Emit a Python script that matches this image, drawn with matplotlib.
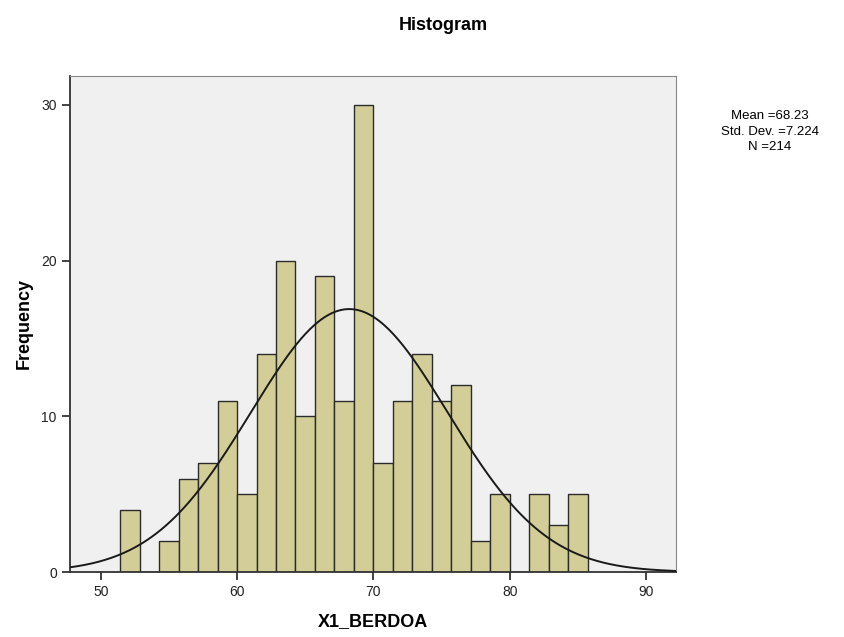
import numpy as np
import matplotlib
matplotlib.use('Agg')
import matplotlib.pyplot as plt

plt.rcParams['font.family'] = ['Liberation Sans', 'DejaVu Sans']

# histogram bins (width 10/7) and counts
bin_start = 60 - 6 * 10 / 7
bin_width = 10 / 7
counts = [4, 0, 2, 6, 7, 11, 5, 14, 20, 10, 19, 11, 30, 7, 11, 14, 11, 12, 2, 5, 0, 5, 3, 5]
mean = 68.23
std = 7.224
n = 214

edges = bin_start + bin_width * np.arange(len(counts) + 1)

fig = plt.figure(figsize=(8.44, 6.37), dpi=100)
ax = fig.add_axes([0.083, 0.102, 0.718, 0.779])
ax.set_facecolor('#f0f0f0')

ax.bar(edges[:-1], counts, width=bin_width, align='edge',
       color='#d3ce97', edgecolor='#2b2b2b', linewidth=1.0, zorder=2)

# normal curve scaled to counts
xs = np.linspace(47.75, 92.2, 400)
ys = n * bin_width * np.exp(-0.5 * ((xs - mean) / std) ** 2) / (std * np.sqrt(2 * np.pi))
ax.plot(xs, ys, color='#1a1a1a', linewidth=1.4, zorder=3)

ax.set_xlim(47.75, 92.2)
ax.set_ylim(0, 31.86)
ax.set_xticks([50, 60, 70, 80, 90])
ax.set_yticks([0, 10, 20, 30])
ax.tick_params(direction='out', length=6, width=1.2, labelsize=10, colors='#222222')
for s in ['top', 'right']:
    ax.spines[s].set_color('#888888')
for s in ['left', 'bottom']:
    ax.spines[s].set_color('#333333')
    ax.spines[s].set_linewidth(1.3)

ax.set_xlabel('X1_BERDOA', fontsize=13, fontweight='bold', labelpad=10)
ax.set_ylabel('Frequency', fontsize=13, fontweight='bold', labelpad=6)
fig.text(0.525, 0.960, 'Histogram', ha='center', va='center', fontsize=13, fontweight='bold')

fig.text(0.912, 0.793, 'Mean =68.23\nStd. Dev. =7.224\nN =214', ha='center', va='center',
         fontsize=9.5, linespacing=1.4)

fig.savefig('out.png', dpi=100)
